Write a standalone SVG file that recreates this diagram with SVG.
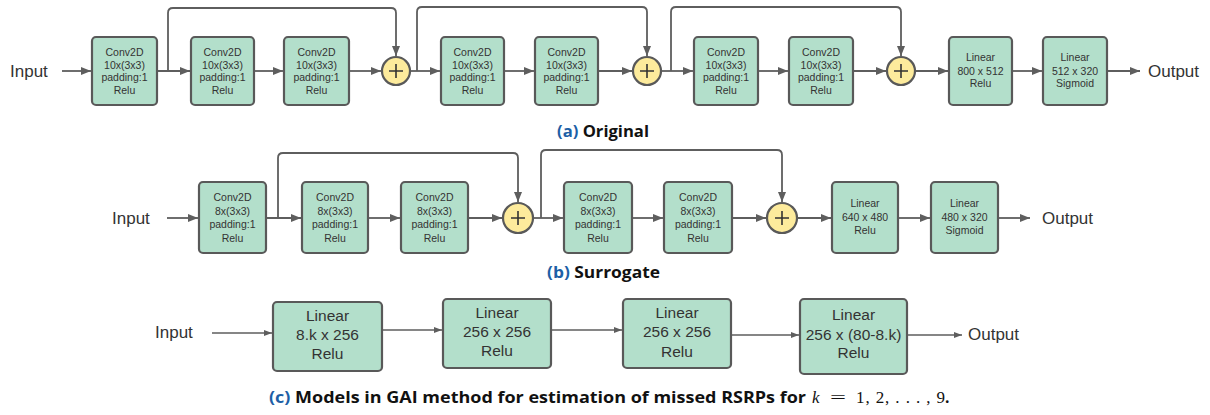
<svg xmlns="http://www.w3.org/2000/svg" width="1210" height="415" viewBox="0 0 1210 415">
<style>
.box{fill:#b3dfcb;stroke:#595959;stroke-width:2.2}
.sum{fill:#fdeb9c;stroke:#595959;stroke-width:2.2}
.plus{stroke:#333;stroke-width:1.6;fill:none}
.t{font-family:"Liberation Sans",Arial,sans-serif;font-size:10.5px;fill:#333;text-anchor:middle}
.tc{font-family:"Liberation Sans",Arial,sans-serif;font-size:15.5px;fill:#333;text-anchor:middle}
.io{font-family:"Liberation Sans",Arial,sans-serif;font-size:17px;fill:#333}
.ln{stroke:#5e5e5e;stroke-width:1.8;fill:none}
.lnc{stroke:#5e5e5e;stroke-width:1.6;fill:none}
.cap{font-family:"Open Sans","Noto Sans",sans-serif;font-weight:bold;font-size:15.5px;fill:#111}
.lab{fill:#1d5fa6}
.math{font-family:"Liberation Serif","DejaVu Serif",serif;font-size:17px;fill:#111}
</style>
<defs>
<marker id="ah" markerWidth="10" markerHeight="8" refX="10" refY="4" orient="auto" markerUnits="userSpaceOnUse">
<path d="M0,0 L10,4 L0,8 Z" fill="#5e5e5e"/>
</marker>
<marker id="ahs" markerWidth="8" markerHeight="6" refX="8" refY="3" orient="auto" markerUnits="userSpaceOnUse">
<path d="M0,0 L8,3 L0,6 Z" fill="#5e5e5e"/>
</marker>
</defs>

<!-- connectors -->
<g id="connectors">
<!-- row a -->
<path class="ln" d="M62,71 H91" marker-end="url(#ah)"/>
<path class="ln" d="M157,71 H190" marker-end="url(#ah)"/>
<path class="ln" d="M254,71 H283" marker-end="url(#ah)"/>
<path class="ln" d="M349,71 H381" marker-end="url(#ah)"/>
<path class="ln" d="M410,71 H440" marker-end="url(#ah)"/>
<path class="ln" d="M504,71 H534" marker-end="url(#ah)"/>
<path class="ln" d="M598,71 H632" marker-end="url(#ah)"/>
<path class="ln" d="M661,71 H693" marker-end="url(#ah)"/>
<path class="ln" d="M758,71 H788" marker-end="url(#ah)"/>
<path class="ln" d="M853,71 H886" marker-end="url(#ah)"/>
<path class="ln" d="M915,71 H948" marker-end="url(#ah)"/>
<path class="ln" d="M1012,71 H1042" marker-end="url(#ah)"/>
<path class="ln" d="M1107,71 H1140" marker-end="url(#ah)"/>
<path class="ln" d="M168,71 V13 Q168,8 173,8 H391 Q396,8 396,13 V56" marker-end="url(#ah)"/>
<path class="ln" d="M417,71 V12 Q417,7 422,7 H642 Q647,7 647,12 V56" marker-end="url(#ah)"/>
<path class="ln" d="M671,71 V12 Q671,7 676,7 H896 Q901,7 901,12 V56" marker-end="url(#ah)"/>
<!-- row b -->
<path class="ln" d="M167,218 H198" marker-end="url(#ah)"/>
<path class="ln" d="M266,218 H301" marker-end="url(#ah)"/>
<path class="ln" d="M368,218 H400" marker-end="url(#ah)"/>
<path class="ln" d="M468,218 H502" marker-end="url(#ah)"/>
<path class="ln" d="M533,218 H563" marker-end="url(#ah)"/>
<path class="ln" d="M632,218 H663" marker-end="url(#ah)"/>
<path class="ln" d="M732,218 H766" marker-end="url(#ah)"/>
<path class="ln" d="M797,218 H831" marker-end="url(#ah)"/>
<path class="ln" d="M898,218 H930" marker-end="url(#ah)"/>
<path class="ln" d="M998,218 H1030" marker-end="url(#ah)"/>
<path class="ln" d="M278,218 V158 Q278,153 283,153 H513 Q518,153 518,158 V202" marker-end="url(#ah)"/>
<path class="ln" d="M541,218 V155 Q541,150 546,150 H777 Q782,150 782,155 V202" marker-end="url(#ah)"/>
<!-- row c -->
<path class="lnc" d="M212,333 H272" marker-end="url(#ahs)"/>
<path class="lnc" d="M382,330 H442" marker-end="url(#ahs)"/>
<path class="lnc" d="M551,330 H622" marker-end="url(#ahs)"/>
<path class="lnc" d="M731,335 H799" marker-end="url(#ahs)"/>
<path class="lnc" d="M907,335 H962" marker-end="url(#ahs)"/>
</g>

<!-- row a -->
<text class="io" x="10" y="77">Input</text>
<g id="a1"><rect class="box" x="92" y="37" width="65" height="68" rx="4"/><text class="t" x="124.5" y="56">Conv2D</text><text class="t" x="124.5" y="68.5">10x(3x3)</text><text class="t" x="124.5" y="81">padding:1</text><text class="t" x="124.5" y="94">Relu</text></g>
<g id="a2"><rect class="box" x="191" y="37" width="63" height="68" rx="4"/><text class="t" x="222.5" y="56">Conv2D</text><text class="t" x="222.5" y="68.5">10x(3x3)</text><text class="t" x="222.5" y="81">padding:1</text><text class="t" x="222.5" y="94">Relu</text></g>
<g id="a3"><rect class="box" x="284" y="37" width="65" height="68" rx="4"/><text class="t" x="316.5" y="56">Conv2D</text><text class="t" x="316.5" y="68.5">10x(3x3)</text><text class="t" x="316.5" y="81">padding:1</text><text class="t" x="316.5" y="94">Relu</text></g>
<g id="aS1"><circle class="sum" cx="396" cy="71" r="14"/><path class="plus" d="M389,71 H403 M396,64 V78"/></g>
<g id="a4"><rect class="box" x="441" y="37" width="63" height="68" rx="4"/><text class="t" x="472.5" y="56">Conv2D</text><text class="t" x="472.5" y="68.5">10x(3x3)</text><text class="t" x="472.5" y="81">padding:1</text><text class="t" x="472.5" y="94">Relu</text></g>
<g id="a5"><rect class="box" x="535" y="37" width="63" height="68" rx="4"/><text class="t" x="566.5" y="56">Conv2D</text><text class="t" x="566.5" y="68.5">10x(3x3)</text><text class="t" x="566.5" y="81">padding:1</text><text class="t" x="566.5" y="94">Relu</text></g>
<g id="aS2"><circle class="sum" cx="647" cy="71" r="14"/><path class="plus" d="M640,71 H654 M647,64 V78"/></g>
<g id="a6"><rect class="box" x="694" y="37" width="64" height="68" rx="4"/><text class="t" x="726" y="56">Conv2D</text><text class="t" x="726" y="68.5">10x(3x3)</text><text class="t" x="726" y="81">padding:1</text><text class="t" x="726" y="94">Relu</text></g>
<g id="a7"><rect class="box" x="789" y="37" width="64" height="68" rx="4"/><text class="t" x="821" y="56">Conv2D</text><text class="t" x="821" y="68.5">10x(3x3)</text><text class="t" x="821" y="81">padding:1</text><text class="t" x="821" y="94">Relu</text></g>
<g id="aS3"><circle class="sum" cx="901" cy="71" r="14"/><path class="plus" d="M894,71 H908 M901,64 V78"/></g>
<g id="a8"><rect class="box" x="949" y="37" width="63" height="68" rx="4"/><text class="t" x="980.5" y="61">Linear</text><text class="t" x="980.5" y="74.5">800 x 512</text><text class="t" x="980.5" y="87">Relu</text></g>
<g id="a9"><rect class="box" x="1043" y="37" width="64" height="68" rx="4"/><text class="t" x="1075" y="61">Linear</text><text class="t" x="1075" y="74.5">512 x 320</text><text class="t" x="1075" y="87">Sigmoid</text></g>
<text class="io" x="1148" y="77">Output</text>
<text class="cap" x="557" y="137" textLength="92" lengthAdjust="spacingAndGlyphs"><tspan class="lab">(a)</tspan> Original</text>

<!-- row b -->
<text class="io" x="112" y="224">Input</text>
<g id="b1"><rect class="box" x="199" y="182" width="67" height="71" rx="4"/><text class="t" x="232.5" y="201">Conv2D</text><text class="t" x="232.5" y="215">8x(3x3)</text><text class="t" x="232.5" y="228">padding:1</text><text class="t" x="232.5" y="242">Relu</text></g>
<g id="b2"><rect class="box" x="302" y="182" width="66" height="71" rx="4"/><text class="t" x="335" y="201">Conv2D</text><text class="t" x="335" y="215">8x(3x3)</text><text class="t" x="335" y="228">padding:1</text><text class="t" x="335" y="242">Relu</text></g>
<g id="b3"><rect class="box" x="401" y="182" width="67" height="71" rx="4"/><text class="t" x="434.5" y="201">Conv2D</text><text class="t" x="434.5" y="215">8x(3x3)</text><text class="t" x="434.5" y="228">padding:1</text><text class="t" x="434.5" y="242">Relu</text></g>
<g id="bS1"><circle class="sum" cx="518" cy="218" r="15"/><path class="plus" d="M511,218 H525 M518,211 V225"/></g>
<g id="b4"><rect class="box" x="564" y="182" width="68" height="71" rx="4"/><text class="t" x="598" y="201">Conv2D</text><text class="t" x="598" y="215">8x(3x3)</text><text class="t" x="598" y="228">padding:1</text><text class="t" x="598" y="242">Relu</text></g>
<g id="b5"><rect class="box" x="664" y="182" width="68" height="71" rx="4"/><text class="t" x="698" y="201">Conv2D</text><text class="t" x="698" y="215">8x(3x3)</text><text class="t" x="698" y="228">padding:1</text><text class="t" x="698" y="242">Relu</text></g>
<g id="bS2"><circle class="sum" cx="782" cy="218" r="15"/><path class="plus" d="M775,218 H789 M782,211 V225"/></g>
<g id="b6"><rect class="box" x="832" y="182" width="66" height="71" rx="4"/><text class="t" x="865" y="207">Linear</text><text class="t" x="865" y="221">640 x 480</text><text class="t" x="865" y="234">Relu</text></g>
<g id="b7"><rect class="box" x="931" y="182" width="67" height="71" rx="4"/><text class="t" x="964.5" y="207">Linear</text><text class="t" x="964.5" y="221">480 x 320</text><text class="t" x="964.5" y="234">Sigmoid</text></g>
<text class="io" x="1042" y="224">Output</text>
<text class="cap" x="547" y="278" textLength="113" lengthAdjust="spacingAndGlyphs"><tspan class="lab">(b)</tspan> Surrogate</text>

<!-- row c -->
<text class="io" x="155" y="338">Input</text>
<g id="c1"><rect class="box" x="273" y="302" width="109" height="69" rx="4"/><text class="tc" x="327.5" y="321">Linear</text><text class="tc" x="327.5" y="340">8.k x 256</text><text class="tc" x="327.5" y="359">Relu</text></g>
<g id="c2"><rect class="box" x="443" y="299" width="108" height="69" rx="4"/><text class="tc" x="497" y="318">Linear</text><text class="tc" x="497" y="337">256 x 256</text><text class="tc" x="497" y="356">Relu</text></g>
<g id="c3"><rect class="box" x="623" y="299" width="108" height="69" rx="4"/><text class="tc" x="677" y="318">Linear</text><text class="tc" x="677" y="337">256 x 256</text><text class="tc" x="677" y="357">Relu</text></g>
<g id="c4"><rect class="box" x="800" y="299" width="107" height="75" rx="4"/><text class="tc" x="853.5" y="320">Linear</text><text class="tc" x="853.5" y="340">256 x (80-8.k)</text><text class="tc" x="853.5" y="358">Relu</text></g>
<text class="io" x="968" y="340">Output</text>
<text class="cap" x="269" y="403" textLength="537" lengthAdjust="spacingAndGlyphs"><tspan class="lab">(c)</tspan> Models in GAI method for estimation of missed RSRPs for</text>
<text class="math" x="812" y="403"><tspan font-style="italic">k</tspan><tspan x="830" textLength="16" lengthAdjust="spacingAndGlyphs">=</tspan><tspan x="856" textLength="89" lengthAdjust="spacing">1, 2, . . . , 9</tspan></text>
<text class="cap" x="945" y="403">.</text>
</svg>
